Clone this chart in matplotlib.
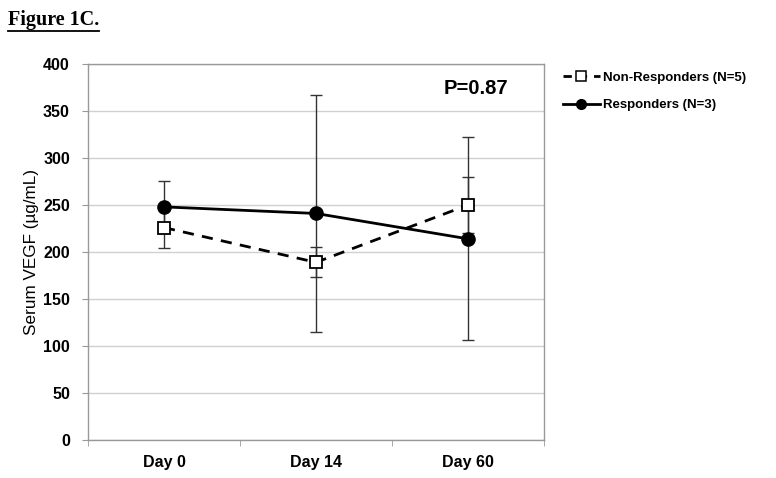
import matplotlib
matplotlib.use("Agg")
import matplotlib.pyplot as plt
from matplotlib.lines import Line2D
import numpy as np

days = ['Day 0', 'Day 14', 'Day 60']
nonresp = [226, 189, 250]
nonresp_err = [22, 16, 30]
resp = [248, 241, 214]
resp_err = [28, 126, 108]
yticks = [0, 50, 100, 150, 200, 250, 300, 350, 400]

plt.rcParams['font.family'] = ['Liberation Sans', 'DejaVu Sans']

W, H = 776, 478
fig = plt.figure(figsize=(W / 100, H / 100), dpi=100)
ax = fig.add_axes([88 / W, 1 - 440 / H, (544 - 88) / W, (440 - 64) / H])

x = np.arange(len(days))

# error bars
ax.errorbar(x, nonresp, yerr=nonresp_err, fmt='none', ecolor='#333333',
            elinewidth=1.0, capsize=4, capthick=1.0, zorder=2)
ax.errorbar(x, resp, yerr=resp_err, fmt='none', ecolor='#333333',
            elinewidth=1.0, capsize=4, capthick=1.0, zorder=2)

ax.plot(x, nonresp, color='black', lw=2.0, ls=(0, (4, 3)), marker='s',
        markersize=9, markerfacecolor='white', markeredgecolor='black',
        markeredgewidth=1.3, zorder=3, label='Non-Responders (N=5)')
ax.plot(x, resp, color='black', lw=2.0, ls='-', marker='o',
        markersize=9.5, markerfacecolor='black', markeredgecolor='black',
        zorder=4, label='Responders (N=3)')

ax.set_xlim(-0.5, len(days) - 0.5)
ax.set_ylim(0, 400)
ax.set_yticks(yticks)
ax.set_yticklabels([str(v) for v in yticks], fontsize=11.5, fontweight='bold')
ax.set_xticks(x)
ax.set_xticklabels(days, fontsize=11.5, fontweight='bold')
ax.set_xticks(np.arange(-0.5, len(days), 1.0), minor=True)
ax.tick_params(axis='x', which='major', length=0, pad=11)
ax.tick_params(axis='x', which='minor', length=4, color='#999999', direction='out')
ax.tick_params(axis='y', which='major', length=4, color='#999999', direction='out', pad=9)

ax.yaxis.grid(True, color='#d0d0d0', lw=1.0)
ax.set_axisbelow(True)
for s in ax.spines.values():
    s.set_color('#999999')
    s.set_linewidth(1.0)

ax.set_ylabel('Serum VEGF (µg/mL)', fontsize=12.3, labelpad=3)

ax.text(476 / W, 1 - 88 / H, 'P=0.87', transform=fig.transFigure,
        ha='center', va='center', fontsize=14.5, fontweight='bold')

handles = [
    Line2D([], [], color='black', lw=2.0, ls=(0, (3, 2.5)), marker='s', markersize=7,
           markerfacecolor='white', markeredgecolor='black', markeredgewidth=1.1),
    Line2D([], [], color='black', lw=2.0, ls='-', marker='o', markersize=7,
           markerfacecolor='black'),
]
leg = fig.legend(handles, ['Non-Responders (N=5)', 'Responders (N=3)'],
                 loc='center left', bbox_to_anchor=(563 / W, 1 - 91.5 / H),
                 frameon=False, borderpad=0, borderaxespad=0,
                 handlelength=2.8, handletextpad=0.2, labelspacing=1.15,
                 prop={'family': 'Liberation Sans', 'weight': 'bold', 'size': 9.5})

# Title
t = fig.text(8 / W, 1 - 20 / H, 'Figure 1C.', ha='left', va='center',
             fontsize=14.5, fontweight='bold', family='Liberation Serif')
fig.canvas.draw()
bb = t.get_window_extent()
x0, x1 = bb.x0 / W, bb.x1 / W
fig.add_artist(Line2D([x0, x1], [1 - 31 / H, 1 - 31 / H], transform=fig.transFigure,
                      color='black', lw=1.3))

fig.savefig('out.png', dpi=100)
